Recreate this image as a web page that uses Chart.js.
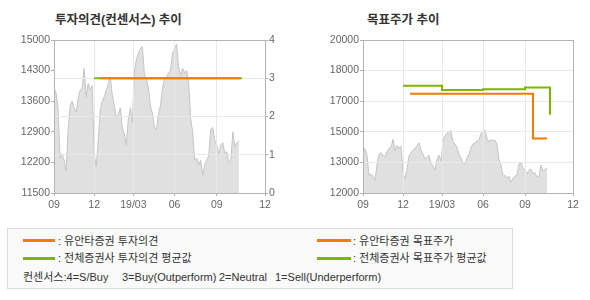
<!DOCTYPE html>
<html lang="ko">
<head>
<meta charset="utf-8">
<script src="https://cdn.jsdelivr.net/npm/chart.js@4/dist/chart.umd.min.js"></script>
<style>
  body { margin: 0; width: 590px; height: 300px; position: relative; overflow: hidden; background: #fff;
         font-family: "Liberation Sans", "Noto Sans CJK KR", sans-serif; color: #333; }
  canvas { position: absolute; top: 0; }
  .title { position: absolute; top: 12px; font-size: 12.5px; line-height: 16px; font-weight: bold; color: #333; white-space: pre; }
  #legend { position: absolute; left: 7px; top: 228px; width: 506px; height: 61px; box-sizing: border-box;
            border: 1px solid #dcdcdc; background: #fafafa; }
  .sw { position: absolute; width: 32px; height: 3px; }
  .lt { position: absolute; font-size: 11px; line-height: 14px; white-space: pre; color: #333; }
</style>
</head>
<body>
<div class="title" style="left:55px">투자의견(컨센서스) 추이</div>
<div class="title" style="left:367px">목표주가 추이</div>
<canvas id="opinion" width="295" height="220" style="left:0"></canvas>
<canvas id="target" width="295" height="220" style="left:295px"></canvas>
<div id="legend">
  <div class="sw" style="left:15px;top:10px;background:#f47a00"></div>
  <div class="lt" style="left:50px;top:5px">: 유안타증권 투자의견</div>
  <div class="sw" style="left:15px;top:28px;background:#7ab800"></div>
  <div class="lt" style="left:50px;top:22px">: 전체증권사 투자의견 평균값</div>
  <div class="sw" style="left:309px;top:10px;width:34px;background:#f47a00"></div>
  <div class="lt" style="left:345px;top:5px">: 유안타증권 목표주가</div>
  <div class="sw" style="left:309px;top:28px;width:34px;background:#7ab800"></div>
  <div class="lt" style="left:345px;top:22px">: 전체증권사 목표주가 평균값</div>
  <div class="lt" style="left:15px;top:41px">컨센서스:4=S/Buy</div>
  <div class="lt" style="left:114px;top:41px">3=Buy(Outperform)</div>
  <div class="lt" style="left:211px;top:41px">2=Neutral</div>
  <div class="lt" style="left:267px;top:41px">1=Sell(Underperform)</div>
</div>
<script>
// share price, one value every 2 sessions from 2018/09
const sessionStep = 2;
const prices = [
  13900, 13800, 13450, 12300, 12400, 12250, 12000, 12900, 13500, 13600,
  13450, 13350, 13650, 13850, 13900, 14350, 13700, 14000, 13850, 13950,
  12400, 12100, 12700, 13400, 13600, 13700, 13850, 14000, 14150, 13750,
  13500, 13250, 13300, 13450, 13000, 12850, 12600, 13200, 13450, 13100,
  14300, 14550, 14700, 14800, 14850, 14200, 14100, 13900, 13500, 13300,
  13000, 12950, 13300, 13500, 13900, 14100, 14150, 14250, 14300, 14700,
  14800, 14900, 14400, 14200, 14350, 14250, 14300, 14050, 13200, 12900,
  12250, 12300, 12150, 12250, 11900, 12150, 12250, 12350, 12950, 13000,
  12700, 12600, 12400, 12600, 12650, 12400, 12450, 12200, 12250, 12900,
  12550, 12650, 12700
];

const xTickPos = [0, 40, 79, 120, 162, 210];
const xTickLabels = ['09', '12', '19/03', '06', '09', '12'];
const priceTickLabels = ['11500', '12200', '12900', '13600', '14300', '15000'];
const opinionTickLabels = ['0', '1', '2', '3', '4'];
const targetTickLabels = ['12000', '13000', '15000', '17000', '18000', '20000'];

// consensus (4=S/Buy ... 1=Sell)
const yuantaOpinionDays = [46, 185];
const yuantaOpinion = [3, 3];
const avgOpinionDays = [40, 187];
const avgOpinion = [3, 3];

// target prices
const yuantaTargetDays = [47, 170, 184];
const yuantaTarget = [16950, 14400, 14400];
const avgTargetDays = [40, 79, 120, 162, 187];
const avgTarget = [17400, 17150, 17200, 17300, 15750];

const TARGET_MIN = 11300, TARGET_MAX = 20000;
const ORANGE = '#f47a00', GREEN = '#7ab800', GRID = '#e9e9e9', FRAME = '#b4b4b4';

Chart.defaults.font.family = "'Liberation Sans', Arial, sans-serif";
Chart.defaults.font.size = 10.5;
Chart.defaults.color = '#666';
Chart.defaults.animation = false;
Chart.defaults.plugins.legend.display = false;
Chart.defaults.plugins.tooltip.enabled = false;

const pts = (xs, ys) => xs.map((x, i) => ({ x, y: ys[i] }));
const pricePts = prices.map((p, i) => ({ x: i * sessionStep, y: p }));

// grid over the grey price area, frame round the plot
const frame = {
  id: 'frame',
  afterDatasetDraw(chart, args) {
    if (args.index !== 0) return;
    Object.values(chart.scales).forEach(s => s.drawGrid(chart.chartArea));
  },
  afterDraw(chart) {
    const { ctx, chartArea: a } = chart;
    const al = v => Math.round(v - 0.5) + 0.5;
    ctx.save();
    ctx.strokeStyle = FRAME;
    ctx.lineWidth = 1;
    ctx.strokeRect(al(a.left), al(a.top), al(a.right) - al(a.left), al(a.bottom) - al(a.top));
    ctx.restore();
  }
};

const xScale = () => ({
  type: 'linear', min: 0, max: 210,
  afterBuildTicks: s => { s.ticks = xTickPos.map(v => ({ value: v })); },
  afterFit: s => { s.height = 27; },
  ticks: { callback: (v, i) => xTickLabels[i], autoSkip: false, maxRotation: 0, padding: 3 },
  grid: { color: GRID, tickColor: FRAME, tickLength: 3 },
  border: { color: FRAME }
});

const priceSet = yAxisID => ({
  data: pricePts, yAxisID, order: 3, fill: 'start',
  backgroundColor: '#e0e0e0', borderColor: '#c4c4c4', borderWidth: 1, pointRadius: 0
});

// horizontal first, then the vertical step at the next point
const stepSet = (data, color, yAxisID, order) => ({
  data, yAxisID, order, stepped: 'before', fill: false,
  borderColor: color, borderWidth: 2, pointRadius: 0, borderCapStyle: 'butt'
});

new Chart(document.getElementById('opinion'), {
  type: 'line',
  data: {
    datasets: [
      priceSet('y'),
      stepSet(pts(avgOpinionDays, avgOpinion), GREEN, 'y2', 2),
      stepSet(pts(yuantaOpinionDays, yuantaOpinion), ORANGE, 'y2', 1)
    ]
  },
  options: {
    responsive: false,
    layout: { padding: { top: 40, left: 0, right: 0, bottom: 0 } },
    scales: {
      x: xScale(),
      y: {
        position: 'left', min: 11500, max: 15000,
        afterBuildTicks: s => { s.ticks = priceTickLabels.map(v => ({ value: Number(v) })); },
        afterFit: s => { s.width = 54; },
        ticks: { callback: (v, i) => priceTickLabels[i], padding: 1 },
        grid: { drawOnChartArea: false, tickColor: FRAME, tickLength: 3 },
        border: { color: FRAME }
      },
      y2: {
        position: 'right', min: 0, max: 4,
        afterBuildTicks: s => { s.ticks = opinionTickLabels.map(v => ({ value: Number(v) })); },
        afterFit: s => { s.width = 30; },
        ticks: { callback: (v, i) => opinionTickLabels[i], padding: 1 },
        grid: { color: GRID, tickColor: FRAME, tickLength: 3 },
        border: { color: FRAME }
      }
    }
  },
  plugins: [frame]
});

new Chart(document.getElementById('target'), {
  type: 'line',
  data: {
    datasets: [
      priceSet('y'),
      stepSet(pts(avgTargetDays, avgTarget), GREEN, 'y', 2),
      stepSet(pts(yuantaTargetDays, yuantaTarget), ORANGE, 'y', 1)
    ]
  },
  options: {
    responsive: false,
    layout: { padding: { top: 40, left: 0, right: 17, bottom: 0 } },
    scales: {
      x: xScale(),
      y: {
        position: 'left', min: TARGET_MIN, max: TARGET_MAX,
        afterBuildTicks: s => {
          s.ticks = targetTickLabels.map((_, i) => ({ value: TARGET_MIN + i * (TARGET_MAX - TARGET_MIN) / (targetTickLabels.length - 1) }));
        },
        afterFit: s => { s.width = 68; },
        ticks: { callback: (v, i) => targetTickLabels[i], padding: 1 },
        grid: { color: GRID, tickColor: FRAME, tickLength: 3 },
        border: { color: FRAME }
      }
    }
  },
  plugins: [frame]
});
</script>
</body>
</html>
